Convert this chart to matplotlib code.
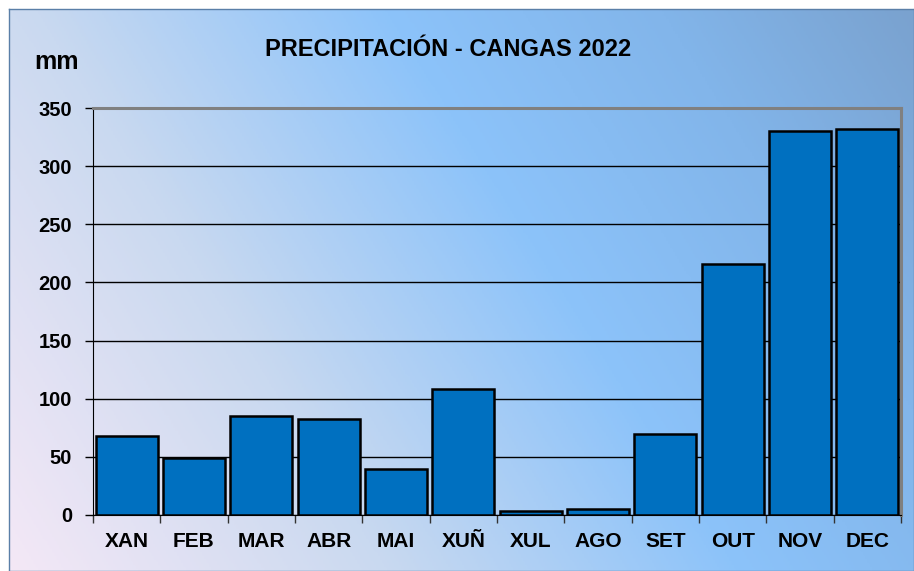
import matplotlib.pyplot as plt
import numpy as np
from matplotlib.colors import LinearSegmentedColormap

# Monthly precipitation (mm)
months = ['XAN', 'FEB', 'MAR', 'ABR', 'MAI', 'XUÑ', 'XUL', 'AGO', 'SET', 'OUT', 'NOV', 'DEC']
rain = [68, 49, 85, 82.5, 39.5, 108, 3.5, 5.5, 69.5, 216, 330, 332]
yticks = [0, 50, 100, 150, 200, 250, 300, 350]

plt.rcParams['font.family'] = ['Liberation Sans', 'DejaVu Sans']
plt.rcParams['font.weight'] = 'bold'

fig = plt.figure(figsize=(9.14, 5.71), dpi=100)

# Background gradient (diagonal), drawn in a figure-level axes
bg = fig.add_axes([9 / 914, 0, 1 - 9 / 914, 1 - 9 / 571])
gx, gy = np.meshgrid(np.linspace(0, 1, 400), np.linspace(0, 1, 300))
t = 0.72 * gx + 0.28 * gy
cmap = LinearSegmentedColormap.from_list('bg', [
    (0.0, '#f4e8f6'), (0.3, '#c9d9f0'), (0.58, '#8cc3fa'),
    (0.8, '#82b5ea'), (1.0, '#7aa2cf')])
bg.imshow(t, cmap=cmap, origin='lower', aspect='auto', extent=(0, 1, 0, 1))
bg.set_xticks([])
bg.set_yticks([])
for s in bg.spines.values():
    s.set_color('#5a7fa8')
    s.set_linewidth(1)

ax = fig.add_axes([93 / 914, 56 / 571, 808 / 914, 407 / 571])
ax.patch.set_alpha(0)
x = np.arange(len(months))
ax.bar(x, rain, width=0.92, color='#0070c0', edgecolor='black', linewidth=1.8, zorder=3)

ax.set_xlim(-0.5, len(months) - 0.5)
ax.set_ylim(0, 350)
ax.set_yticks(yticks)
ax.set_yticklabels([str(v) for v in yticks], fontsize=14.5, fontweight='bold')
ax.set_xticks(x)
ax.set_xticklabels(months, fontsize=15, fontweight='bold')
ax.tick_params(axis='x', length=0, pad=12)
ax.set_xticks(np.arange(-0.5, len(months)), minor=True)
ax.tick_params(axis='x', which='minor', length=6, width=1, color='#333333')
ax.tick_params(axis='y', length=6, width=1, pad=9)
ax.grid(axis='y', color='black', linewidth=1, zorder=1)

ax.spines['left'].set_color('black')
ax.spines['bottom'].set_color('black')
ax.spines['top'].set_color('#808080')
ax.spines['right'].set_color('#808080')
ax.spines['top'].set_linewidth(2.2)
ax.spines['right'].set_linewidth(2.2)

fig.text(448 / 914, 1 - 50 / 571, 'PRECIPITACIÓN - CANGAS 2022', ha='center', va='center',
         fontsize=17, fontweight='bold')
fig.text(57 / 914, 1 - 62 / 571, 'mm', ha='center', va='center', fontsize=18, fontweight='bold')

fig.savefig('out.png', dpi=100)
